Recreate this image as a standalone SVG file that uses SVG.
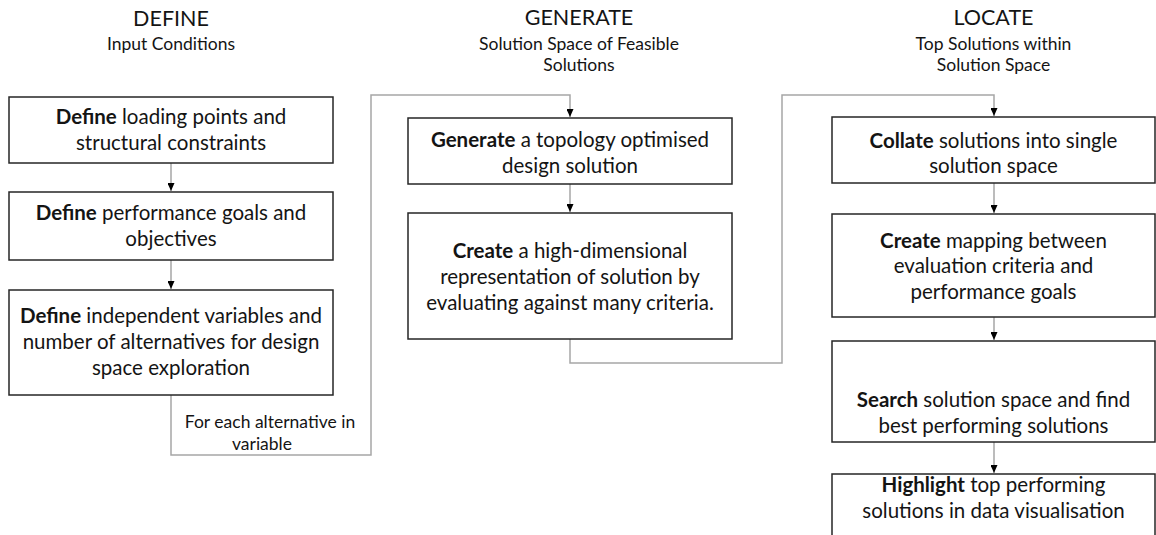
<svg xmlns="http://www.w3.org/2000/svg" width="1156" height="535" viewBox="0 0 1156 535">
  <defs>
    <marker id="arrow" viewBox="0 0 8 7" refX="8" refY="3.5" markerWidth="8" markerHeight="7" markerUnits="userSpaceOnUse" orient="auto">
      <path d="M0,0 L8,3.5 L0,7 Z" fill="#000"/>
    </marker>
    <style>
      text { font-family: Lato, "Open Sans", "Liberation Sans", sans-serif; fill: #141414; text-anchor: middle; }
      .title { font-size: 21.5px; }
      .sub { font-size: 17.5px; }
      .body { font-size: 20.5px; }
      .body tspan.k { font-weight: bold; }
      .box { fill: #fff; stroke: #262626; stroke-width: 1.5; }
      .link { fill: none; stroke: #a6a6a6; stroke-width: 1.5; }
      .link.arr { marker-end: url(#arrow); }
    </style>
  </defs>
  <rect width="1156" height="535" fill="#fff"/>

  <!-- Column headings -->
  <g id="heading-define">
    <text class="title" x="171" y="26">DEFINE</text>
    <text class="sub" x="171" y="50">Input Conditions</text>
  </g>
  <g id="heading-generate">
    <text class="title" x="579" y="25">GENERATE</text>
    <text class="sub" x="579" y="50">Solution Space of Feasible</text>
    <text class="sub" x="579" y="71">Solutions</text>
  </g>
  <g id="heading-locate">
    <text class="title" x="993.5" y="25">LOCATE</text>
    <text class="sub" x="993.5" y="50">Top Solutions within</text>
    <text class="sub" x="993.5" y="71">Solution Space</text>
  </g>

  <!-- Connectors -->
  <g id="connectors">
    <path class="link arr" d="M171,163 V191"/>
    <path class="link arr" d="M171,260 V289"/>
    <path class="link arr" d="M171,395 V455 H371 V95 H570 V117"/>
    <path class="link arr" d="M570,184 V212"/>
    <path class="link arr" d="M570,339 V363 H782 V95 H994 V116"/>
    <path class="link arr" d="M994,183 V213"/>
    <path class="link arr" d="M994,317 V340"/>
    <path class="link arr" d="M994,442 V473"/>
    <text class="sub" x="270" y="428">For each alternative in</text>
    <text class="sub" x="262" y="449.5">variable</text>
  </g>

  <!-- DEFINE column -->
  <g id="define-loading">
    <rect class="box" x="9" y="97" width="324" height="66"/>
    <text class="body" x="171" y="124"><tspan class="k">Define</tspan> loading points and</text>
    <text class="body" x="171" y="149.5">structural constraints</text>
  </g>
  <g id="define-goals">
    <rect class="box" x="9" y="192" width="324" height="68"/>
    <text class="body" x="171" y="219.5"><tspan class="k">Define</tspan> performance goals and</text>
    <text class="body" x="171" y="245.5">objectives</text>
  </g>
  <g id="define-variables">
    <rect class="box" x="9" y="290" width="324" height="105"/>
    <text class="body" x="171" y="322.7"><tspan class="k">Define</tspan> independent variables and</text>
    <text class="body" x="171" y="348.5">number of alternatives for design</text>
    <text class="body" x="171" y="374.5">space exploration</text>
  </g>

  <!-- GENERATE column -->
  <g id="generate-topology">
    <rect class="box" x="408" y="118" width="324" height="66"/>
    <text class="body" x="570" y="146.5"><tspan class="k">Generate</tspan> a topology optimised</text>
    <text class="body" x="570" y="172.5">design solution</text>
  </g>
  <g id="create-representation">
    <rect class="box" x="408" y="213" width="324" height="126"/>
    <text class="body" x="570" y="258.3"><tspan class="k">Create</tspan> a high-dimensional</text>
    <text class="body" x="570" y="284">representation of solution by</text>
    <text class="body" x="570" y="310">evaluating against many criteria.</text>
  </g>

  <!-- LOCATE column -->
  <g id="collate-solutions">
    <rect class="box" x="832" y="117" width="323" height="66"/>
    <text class="body" x="993.5" y="147.5"><tspan class="k">Collate</tspan> solutions into single</text>
    <text class="body" x="993.5" y="172.7">solution space</text>
  </g>
  <g id="create-mapping">
    <rect class="box" x="832" y="214" width="323" height="103"/>
    <text class="body" x="993.5" y="247.7"><tspan class="k">Create</tspan> mapping between</text>
    <text class="body" x="993.5" y="273.3">evaluation criteria and</text>
    <text class="body" x="993.5" y="299">performance goals</text>
  </g>
  <g id="search-space">
    <rect class="box" x="832" y="341" width="323" height="101"/>
    <text class="body" x="993.5" y="406.5"><tspan class="k">Search</tspan> solution space and find</text>
    <text class="body" x="993.5" y="432.5">best performing solutions</text>
  </g>
  <g id="highlight-top">
    <rect class="box" x="832" y="474" width="323" height="80"/>
    <text class="body" x="993.5" y="491.7"><tspan class="k">Highlight</tspan> top performing</text>
    <text class="body" x="993.5" y="518">solutions in data visualisation</text>
  </g>
</svg>
